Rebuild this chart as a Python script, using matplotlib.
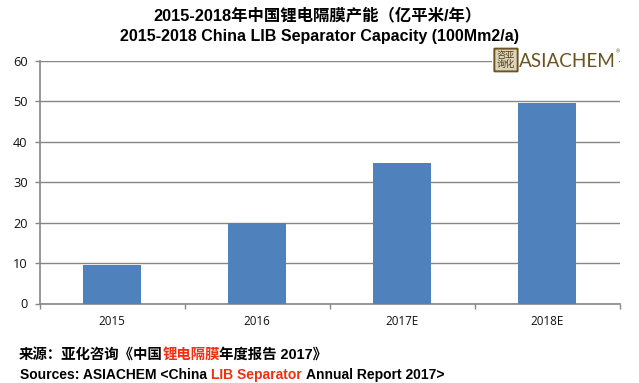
import matplotlib
matplotlib.use('Agg')
import matplotlib.pyplot as plt
from matplotlib.patches import FancyBboxPatch, Rectangle

plt.rcParams['font.family'] = ['Liberation Sans', 'Noto Sans CJK SC', 'DejaVu Sans']

years = ['2015', '2016', '2017E', '2018E']
capacity = [9.5, 20, 34.8, 49.6]
yticks = [0, 10, 20, 30, 40, 50, 60]

W, H = 639, 383
GREY = '#868686'
BROWN = '#6b5420'


def fx(x):
    return x / W


def fy(y):
    return 1 - y / H


fig = plt.figure(figsize=(W / 100, H / 100), dpi=100)
ax = fig.add_axes([fx(39.5), fy(303.5), (620 - 39.5) / W, (303.5 - 61) / H])

x = range(len(years))
ax.bar(x, capacity, width=0.4, color='#4f81bd', zorder=3)
ax.set_xlim(-0.5, 3.5)
ax.set_ylim(0, 60)
ax.set_yticks(yticks)
ax.set_xticks([-0.5, 0.5, 1.5, 2.5, 3.5])
ax.set_xticklabels([])
ax.set_xticks(list(x), minor=True)
ax.set_xticklabels(years, minor=True, fontfamily=['Open Sans', 'DejaVu Sans'], fontsize=8.4, color='#111111')
ax.tick_params(axis='x', which='minor', length=0, pad=8)
ax.tick_params(axis='x', which='major', length=3.5, width=1, color=GREY)
ax.tick_params(axis='y', length=3.5, width=1, color=GREY, pad=5, labelsize=9.2, labelcolor='#111111')
for lab in ax.get_yticklabels():
    lab.set_fontfamily(['Open Sans', 'DejaVu Sans'])
ax.grid(axis='y', color=GREY, lw=1, zorder=0)
ax.set_axisbelow(True)
for s in ['top', 'right']:
    ax.spines[s].set_visible(False)
for s in ['left', 'bottom']:
    ax.spines[s].set_color(GREY)
    ax.spines[s].set_linewidth(1.2)

# titles
fig.text(fx(317), fy(15), '2015-2018年中国锂电隔膜产能（亿平米/年）', ha='center', va='center',
         fontsize=11.8, fontweight='bold', color='black')
fig.text(fx(319.5), fy(36), '2015-2018 China LIB Separator Capacity (100Mm2/a)', ha='center', va='center',
         fontsize=11.5, fontweight='bold', color='black')

# logo
fig.add_artist(Rectangle((fx(492), fy(76)), 127 / W, 30 / H, transform=fig.transFigure,
                         fc='white', ec='none', zorder=5))
fig.add_artist(FancyBboxPatch((fx(495), fy(71)), 22 / W, 22 / H, boxstyle='round,pad=0.001',
                              transform=fig.transFigure, fc='#ddd4bb', ec=BROWN, lw=1.4, zorder=6))
fig.text(fx(506), fy(60), '咨亚\n询化', ha='center', va='center', fontsize=6.6, color='#4f3d15',
         linespacing=1.0, zorder=7)
fig.text(fx(519), fy(61.5), 'ASIACHEM', ha='left', va='center', fontfamily=['Lato', 'DejaVu Sans'],
         fontsize=13.6, color=BROWN, zorder=7)
fig.text(fx(616), fy(52), '®', ha='left', va='center', fontsize=4, color=BROWN, zorder=7)

# source lines
fig.text(fx(19), fy(355), '来源：亚化咨询《中国', ha='left', va='center', fontsize=10.4, fontweight='bold', color='black')
fig.text(fx(163), fy(355), '锂电隔膜', ha='left', va='center', fontsize=10.4, fontweight='bold', color='#f03010')
fig.text(fx(219), fy(355), '年度报告 2017》', ha='left', va='center', fontsize=10.4, fontweight='bold', color='black')

fig.text(fx(20), fy(375), 'Sources: ASIACHEM <China', ha='left', va='center', fontsize=10, fontweight='bold', color='black')
fig.text(fx(211), fy(375), 'LIB Separator', ha='left', va='center', fontsize=10, fontweight='bold', color='#f03010')
fig.text(fx(306), fy(375), 'Annual Report 2017>', ha='left', va='center', fontsize=10, fontweight='bold', color='black')

fig.savefig('out.png', dpi=100)
